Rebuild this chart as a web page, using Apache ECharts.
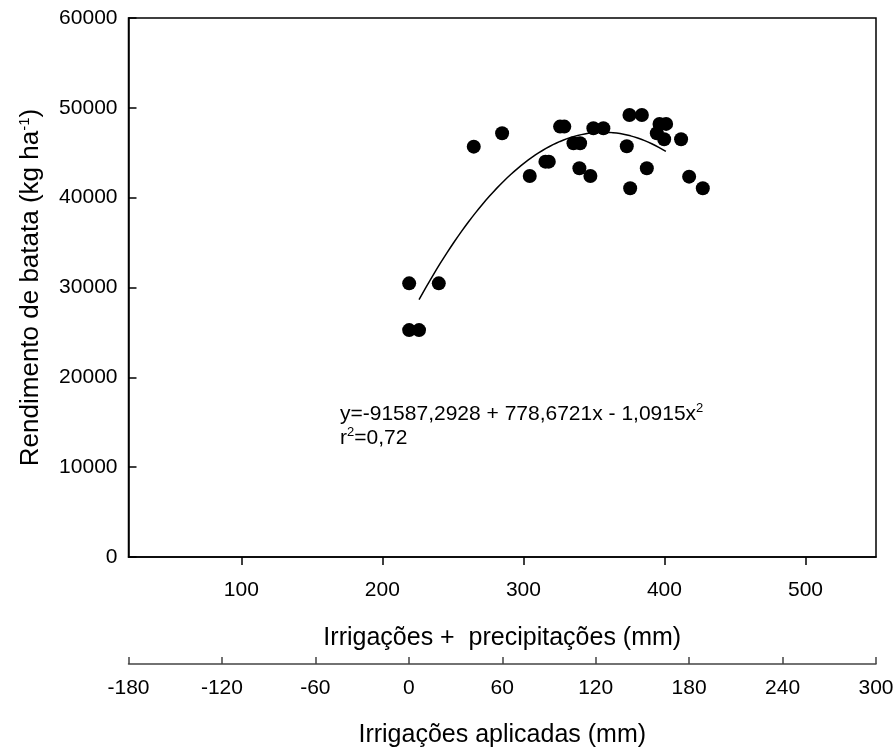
<!DOCTYPE html>
<html>
<head>
<meta charset="utf-8">
<script src="https://cdn.jsdelivr.net/npm/echarts@6/dist/echarts.min.js"></script>
<style>html,body{margin:0;padding:0;background:#fff;}#c{width:896px;height:749px;}</style>
</head>
<body>
<div id="c"></div>
<script>
// Observed data: total water (irrigation + precipitation, mm) vs potato yield (kg/ha)
var waterMM = [219, 240, 219, 226, 264.8, 284.9, 326, 329, 349.6, 356.7, 335.5, 340.2, 315.6, 318.0, 304.5, 339.7, 347.5, 375.2, 384.0, 396.5, 401.2, 394.6, 399.8, 411.8, 373.3, 387.5, 375.7, 417.5, 427.2];
var yieldKg = [30460, 30460, 25260, 25260, 45680, 47170, 47910, 47910, 47730, 47730, 46060, 46060, 44010, 44010, 42420, 43280, 42420, 49210, 49210, 48210, 48210, 47170, 46510, 46510, 45720, 43280, 41050, 42340, 41050];
// Fitted quadratic printed on the chart
var coef = [-91587.2928, 778.6721, -1.0915];
var fitRange = [226, 401];
var xTicks = [100, 200, 300, 400, 500];
var x2Range = [-180, 300];

var fit = [];
for (var x = fitRange[0]; x <= fitRange[1] + 0.001; x += 2.5) {
  fit.push([x, coef[0] + coef[1] * x + coef[2] * x * x]);
}
var pts = waterMM.map(function (v, i) { return [v, yieldKg[i]]; });

var font = '"Liberation Sans", Arial, sans-serif';
var chart = echarts.init(document.getElementById('c'));
chart.setOption({
  animation: false,
  backgroundColor: '#fff',
  textStyle: { fontFamily: font, color: '#000' },
  grid: { left: 128.5, right: 20, top: 18, bottom: 192, containLabel: false, outerBoundsMode: 'none', show: true, borderColor: '#000', borderWidth: 1.5, backgroundColor: 'transparent' },
  xAxis: [{
    type: 'value', min: 20, max: 550,
    name: 'Irrigações +  precipitações (mm)', nameLocation: 'middle', nameGap: 69,
    nameTextStyle: { fontSize: 25, fontFamily: font, color: '#000' },
    axisLine: { show: true, onZero: false, lineStyle: { color: '#000', width: 1.5 } },
    axisTick: { show: true, inside: false, length: 8, customValues: xTicks, lineStyle: { color: '#000', width: 1.5 } },
    axisLabel: { customValues: xTicks, margin: 23, fontSize: 21, fontFamily: font, color: '#000' },
    splitLine: { show: false }
  }, {
    type: 'value', min: x2Range[0], max: x2Range[1], interval: 60, position: 'bottom', offset: 107,
    name: 'Irrigações aplicadas (mm)', nameLocation: 'middle', nameGap: 59,
    nameTextStyle: { fontSize: 25, fontFamily: font, color: '#000' },
    axisLine: { show: true, onZero: false, lineStyle: { color: '#444', width: 1.5 } },
    axisTick: { show: true, inside: true, length: 7, lineStyle: { color: '#444', width: 1.5 } },
    axisLabel: { margin: 14, fontSize: 21, fontFamily: font, color: '#000', showMinLabel: true, showMaxLabel: true },
    splitLine: { show: false }
  }],
  yAxis: {
    type: 'value', min: 0, max: 60000, interval: 10000,
    name: 'Rendimento de batata (kg ha{s|-1})', nameLocation: 'middle', nameGap: 85,
    nameTextStyle: { fontSize: 26, fontFamily: font, color: '#000',
      rich: { s: { fontSize: 15, fontFamily: font, color: '#000', verticalAlign: 'top', lineHeight: 15, padding: [0, 0, 12, 0] } } },
    axisLine: { show: true, onZero: false, lineStyle: { color: '#000', width: 1.5 } },
    axisTick: { show: true, inside: true, length: 8, lineStyle: { color: '#000', width: 1.5 } },
    axisLabel: { margin: 11, fontSize: 21, fontFamily: font, color: '#000', formatter: function (v) { return String(v); } },
    splitLine: { show: false }
  },
  series: [{
    type: 'scatter', data: pts, symbol: 'circle', symbolSize: 14,
    itemStyle: { color: '#000', opacity: 1 }, z: 3
  }, {
    type: 'line', data: fit, showSymbol: false, symbol: 'none', smooth: false,
    lineStyle: { color: '#000', width: 1.5 }, z: 4
  }],
  graphic: [{
    type: 'text', left: 340, top: 402, z: 10,
    style: {
      text: 'y=-91587,2928 + 778,6721x - 1,0915x{s|2}\nr{s|2}=0,72',
      font: '21px ' + font, fill: '#000', lineHeight: 24,
      rich: { s: { fontSize: 13, fontFamily: font, fill: '#000', verticalAlign: 'top', lineHeight: 13, padding: [0, 0, 10, 0] } }
    }
  }]
});
</script>
</body>
</html>
